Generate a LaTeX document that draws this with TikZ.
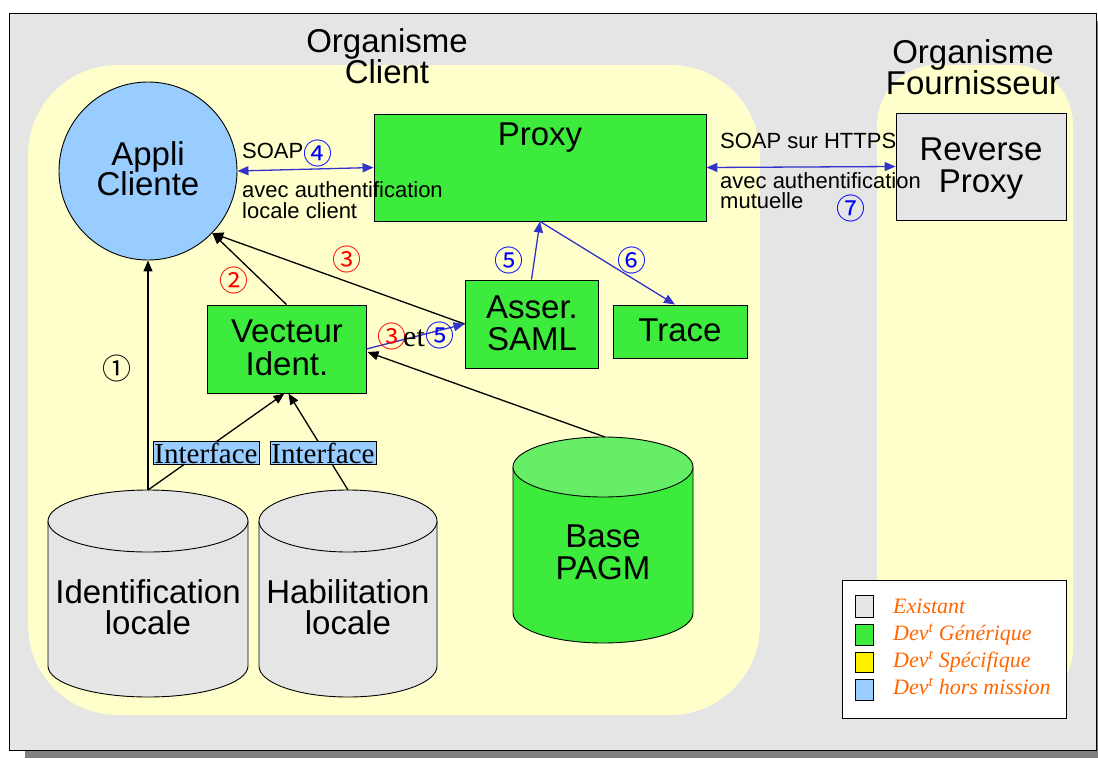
\documentclass[tikz,border=0pt]{standalone}
\usepackage{fontspec}
\setmainfont{Liberation Sans}
\newfontfamily\seriffont{Liberation Serif}
\newfontfamily\symfont{Noto Sans CJK SC}
\usetikzlibrary{arrows.meta,calc}
\definecolor{bggray}{HTML}{E5E5E5}
\definecolor{shadowgray}{HTML}{808080}
\definecolor{paleyellow}{HTML}{FFFFCC}
\definecolor{boxgreen}{HTML}{3CEB3C}
\definecolor{topgreen}{HTML}{66EE66}
\definecolor{lightblue}{HTML}{99CCFF}
\definecolor{arrblue}{HTML}{3333CC}
\definecolor{legorange}{HTML}{FF6600}
\definecolor{numblue}{HTML}{0000FF}
\definecolor{numred}{HTML}{FF0000}
\tikzset{
  big/.style={font=\fontsize{33}{31}\selectfont, anchor=base, inner sep=0pt},
  small/.style={font=\fontsize{22}{21}\selectfont, anchor=base west, inner sep=0pt},
  num/.style={font=\symfont\fontsize{29}{29}\selectfont, inner sep=0pt},
  gbox/.style={draw=black, line width=0.9pt, fill=boxgreen, inner sep=0pt},
  graybox/.style={draw=black, line width=0.9pt, fill=bggray, inner sep=0pt},
  iface/.style={draw=black, line width=0.6pt, fill=lightblue, inner sep=0pt,
    minimum width=106pt, minimum height=23pt, font=\seriffont\fontsize{29}{29}\selectfont},
  arr/.style={-{Triangle[length=11pt,width=9pt]}, line width=1.3pt, draw=black},
  barr/.style={-{Triangle[length=11pt,width=9pt]}, line width=1.3pt, draw=arrblue},
  dbarr/.style={{Triangle[length=11pt,width=9pt]}-{Triangle[length=11pt,width=9pt]}, line width=1.3pt, draw=arrblue},
  legtext/.style={font=\seriffont\itshape\fontsize{22}{22}\selectfont, text=legorange, anchor=base west, inner sep=0pt},
  legsq/.style={draw=black, line width=0.9pt},
}
\newcommand{\mycyl}[7]{% cx, rx, top, bottom, ry, body, topfill
  \fill[#6] (#1-#2,#3+#5) -- (#1-#2,#4-#5) arc[start angle=180,end angle=0,x radius=#2,y radius=#5]
     -- (#1+#2,#3+#5) -- cycle;
  \draw[line width=0.9pt] (#1-#2,#3+#5) -- (#1-#2,#4-#5) arc[start angle=180,end angle=0,x radius=#2,y radius=#5]
     -- (#1+#2,#3+#5);
  \draw[line width=0.9pt, fill=#7] (#1,#3+#5) ellipse[x radius=#2,y radius=#5];
}
\begin{document}
\begin{tikzpicture}[x=1pt,y=-1pt]
\useasboundingbox (0,0) rectangle (1098,758);
% frame with shadow
\fill[shadowgray] (25,21) rectangle (1098,758);
\draw[fill=bggray, line width=1pt] (9.5,13) rectangle (1096,750);
% organisation regions
\fill[paleyellow, rounded corners=90pt] (28,65) rectangle (760,715);
\fill[paleyellow, rounded corners=60pt] (877,65) rectangle (1073,708);
% titles
\node[big] (tOrgC1) at (387,52) {Organisme};
\node[big] (tOrgC2) at (387,83) {Client};
\node[big] (tOrgF1) at (973,63) {Organisme};
\node[big] (tOrgF2) at (973,94) {Fournisseur};

% cylinders
\mycyl{148}{100}{490}{697}{31}{bggray}{bggray}
\mycyl{348}{89}{490}{697}{31}{bggray}{bggray}
\mycyl{603}{90}{437}{643}{30}{boxgreen}{topgreen}
\coordinate (idtop) at (148,490);
\coordinate (habtop) at (348,490);
\coordinate (pagmtop) at (605,437);
\node[big] (tId1) at (148,603) {Identification};
\node[big] (tId2) at (148,634) {locale};
\node[big] (tHab1) at (348,603) {Habilitation};
\node[big] (tHab2) at (348,634) {locale};
\node[big] (tBase1) at (603,547) {Base};
\node[big] (tBase2) at (603,579) {PAGM};

% main nodes
\node[circle, draw=black, line width=0.9pt, fill=lightblue, minimum size=178pt, inner sep=0pt] (appli) at (148,171) {};
\node[big] (tApp1) at (148,165) {Appli};
\node[big] (tApp2) at (148,195) {Cliente};

\node[gbox, minimum width=332pt, minimum height=107pt] (proxy) at (540,167.5) {};
\node[big] (tProxy) at (540,145) {Proxy};

\node[graybox, minimum width=170pt, minimum height=107pt] (reverse) at (981,166.5) {};
\node[big] (tRev1) at (981,160) {Reverse};
\node[big] (tRev2) at (981,192) {Proxy};

\node[gbox, minimum width=159pt, minimum height=88pt] (vecteur) at (286.5,349) {};
\node[big] (tVec1) at (287,342) {Vecteur};
\node[big] (tVec2) at (287,375) {Ident.};

\node[gbox, minimum width=133pt, minimum height=88pt] (asser) at (531.5,324) {};
\node[big] (tAss1) at (532,318) {Asser.};
\node[big] (tAss2) at (532,350) {SAML};

\node[gbox, minimum width=134pt, minimum height=53pt] (trace) at (680,331.5) {};
\node[big] (tTrace) at (680,341) {Trace};

% connectors
\draw[arr] (idtop) -- (appli.south);
\draw[arr] (idtop) -- ($(vecteur.south)+(-2,0)$);
\draw[arr] (habtop) -- ($(vecteur.south)+(2,0)$);
\draw[arr] (vecteur.north) -- (appli.-44);
\draw[arr] (asser.west) -- (appli.-44);
\draw[arr] (pagmtop) -- ($(vecteur.east)+(1,3)$);
\draw[barr] (vecteur.east) -- (asser.west);
\draw[barr] (asser.north) -- (proxy.south);
\draw[barr] (proxy.south) -- ($(trace.north)+(-5,0)$);
\draw[dbarr] (appli.east) -- (proxy.west);
\draw[dbarr] (proxy.east) -- (reverse.west);

% interface labels
\node[iface] (if1) at (206,453) {Interface};
\node[iface] (if2) at (323,453) {Interface};

% connector labels
\node[small] (lSoap) at (242,158) {SOAP};
\node[num, text=numblue] (n4) at (318,153) {④};
\node[small] (lAvec1) at (242,197) {avec authentification};
\node[small] (lAvec2) at (242,218) {locale client};
\node[small] (lHttps) at (720,148) {SOAP sur HTTPS};
\node[small] (lMut1) at (720,188) {avec authentification};
\node[small] (lMut2) at (720,208) {mutuelle};
\node[num, text=numblue] (n7) at (851,208) {⑦};
\node[num, text=black] (n1) at (117,368) {①};
\node[num, text=numred] (n2) at (234,280) {②};
\node[num, text=numred] (n3a) at (347,259) {③};
\node[num, text=numred] (n3b) at (392,336) {③};
\node[font=\seriffont\fontsize{30}{30}\selectfont, anchor=base west, inner sep=0pt] (tEt) at (403,346) {et};
\node[num, text=numblue] (n5a) at (440,335) {⑤};
\node[num, text=numblue] (n5b) at (509,260) {⑤};
\node[num, text=numblue] (n6) at (632,260) {⑥};

% legend
\draw[fill=white, line width=1pt] (842,580) rectangle (1066,718);
\draw[legsq, fill=bggray] (855,595) rectangle (873,617);
\draw[legsq, fill=boxgreen] (855,624) rectangle (873,645);
\draw[legsq, fill=yellow] (855,652) rectangle (873,672);
\draw[legsq, fill=lightblue] (855,679) rectangle (873,700);
\node[legtext] (lg1) at (893,613) {Existant};
\node[legtext] (lg2) at (893,640) {Dev\textsuperscript{t} Générique};
\node[legtext] (lg3) at (893,667) {Dev\textsuperscript{t} Spécifique};
\node[legtext] (lg4) at (893,694) {Dev\textsuperscript{t} hors mission};
\end{tikzpicture}
\end{document}
